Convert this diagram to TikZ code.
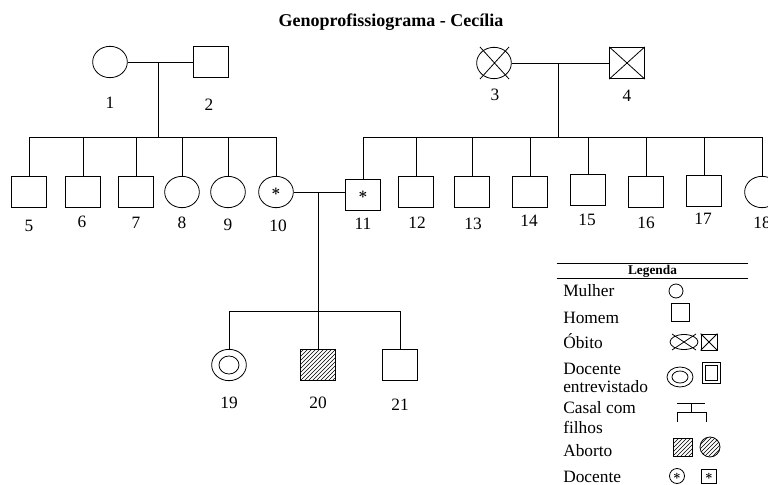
\documentclass[tikz,border=0pt]{standalone}
\usepackage{fontspec}
\setmainfont{Liberation Serif}
\usetikzlibrary{positioning,shapes.geometric,patterns}

\begin{document}
\begin{tikzpicture}[
  x=0.75pt, y=-0.75pt,
  man/.style={rectangle, draw=black, line width=0.6pt, minimum width=26pt, minimum height=23.5pt, inner sep=0pt},
  woman/.style={ellipse, draw=black, line width=0.6pt, minimum width=26pt, minimum height=23.5pt, inner sep=0pt},
  num/.style={font=\fontsize{13}{15}\selectfont, inner sep=0pt},
  leg/.style={font=\fontsize{13}{15}\selectfont, inner sep=0pt, anchor=base west},
  tie/.style={line width=0.6pt},
  aborted/.style={pattern=north east lines}
]
\useasboundingbox (0,0) rectangle (768,485);

\node[font=\fontsize{13.5}{16}\selectfont\bfseries] (title) at (391,22) {Genoprofissiograma - Cecília};

% avos
\node[woman] (p1) at (110,62) {};
\node[man] (p2) at (211,62) {};
\node[woman] (p3) at (494,63) {};
\node[man] (p4) at (627,63) {};
\draw[tie] ([shift={(-14,-16)}]p3.center) -- ([shift={(15,16)}]p3.center)
           ([shift={(15,-16)}]p3.center) -- ([shift={(-14,16)}]p3.center);
\draw[tie] (p4.north west) -- (p4.south east) (p4.north east) -- (p4.south west);

% filhos
\node[man] (p5) at (29,192) {};
\node[man] (p6) at (83,192) {};
\node[man] (p7) at (136,192) {};
\node[woman] (p8) at (182,192) {};
\node[woman] (p9) at (228,192) {};
\node[woman, font=\large\boldmath] (p10) at (276,192) {$\ast$};
\node[man, font=\large\boldmath] (p11) at (363,195) {$\ast$};
\node[man] (p12) at (416,192) {};
\node[man] (p13) at (472,192) {};
\node[man] (p14) at (530,192) {};
\node[man] (p15) at (588,190) {};
\node[man] (p16) at (646,192) {};
\node[man] (p17) at (704,191) {};
\node[woman] (p18) at (762,192) {};

% netos
\node[woman] (p19) at (229,365) {};
\node[woman, minimum width=15pt, minimum height=13.5pt] (p19i) at (p19) {};
\node[man, aborted] (p20) at (318,365) {};
\node[man] (p21) at (400,365) {};

\coordinate (c12) at (158,62);
\coordinate (sib1) at (158,137);
\coordinate (c34) at (558,63);
\coordinate (sib2) at (558,137);
\coordinate (c1011) at (318,193);
\coordinate (sib3) at (318,311);

\draw[tie] (p1) -- (p2) (c12) -- (sib1);
\draw[tie] (p3) -- (p4) (c34) -- (sib2);
\draw[tie] (sib1) -| (p5) (sib1) -| (p6) (sib1) -| (p7) (sib1) -| (p8) (sib1) -| (p9) (sib1) -| (p10);
\draw[tie] (sib2) -| (p11) (sib2) -| (p12) (sib2) -| (p13) (sib2) -| (p14) (sib2) -| (p15) (sib2) -| (p16) (sib2) -| (p17) (sib2) -| (p18);
\draw[tie] (p10.east) -- (p10.east -| p11.west) (c1011) -- (sib3);
\draw[tie] (sib3) -| (p19) (sib3) -- (p20) (sib3) -| (p21);

% numeros
\node[num] (l1) at (110,103) {1};
\node[num] (l2) at (209,105) {2};
\node[num] (l3) at (495,95) {3};
\node[num] (l4) at (627,96) {4};
\node[num] (l5) at (29,226) {5};
\node[num] (l6) at (82,222) {6};
\node[num] (l7) at (136,223) {7};
\node[num] (l8) at (182,223) {8};
\node[num] (l9) at (228,225) {9};
\node[num] (l10) at (278,226) {10};
\node[num] (l11) at (363,224) {11};
\node[num] (l12) at (417,223) {12};
\node[num] (l13) at (473,224) {13};
\node[num] (l14) at (529,221) {14};
\node[num] (l15) at (587,220) {15};
\node[num] (l16) at (646,223) {16};
\node[num] (l17) at (703,219) {17};
\node[num] (l18) at (762,223) {18};
\node[num] (l19) at (229,403) {19};
\node[num] (l20) at (318,403) {20};
\node[num] (l21) at (400,405) {21};

% legenda
\node[minimum width=143.25pt, minimum height=10.5pt, inner sep=0pt, font=\fontsize{10}{11}\selectfont\bfseries] (legenda) at (652.5,271) {Legenda};
\draw[tie] (legenda.north west) -- (legenda.north east) (legenda.south west) -- (legenda.south east);

\node[leg] (tmulher) at (563,296) {Mulher};
\node[leg] (thomem) at (563,323) {Homem};
\node[leg] (tobito) at (563,348) {Óbito};
\node[leg] (tdoc1) at (563,374) {Docente};
\node[leg] (tdoc2) at (563,392) {entrevistado};
\node[leg] (tcasal1) at (563,413) {Casal com};
\node[leg] (tcasal2) at (563,433) {filhos};
\node[leg] (taborto) at (563,456) {Aborto};
\node[leg] (tdocente) at (563,482) {Docente};

\node[woman, minimum width=10.5pt, minimum height=10.5pt] (lw) at (676,291) {};
\node[man, minimum width=13.5pt, minimum height=13.5pt] (lm) at (680,312) {};
\node[woman, minimum width=21pt, minimum height=11.25pt] (ldw) at (684,342) {};
\draw[tie] ([shift={(-12,-8)}]ldw.center) -- ([shift={(12,8)}]ldw.center)
           ([shift={(12,-8)}]ldw.center) -- ([shift={(-12,8)}]ldw.center);
\node[man, minimum width=12pt, minimum height=12pt] (ldm) at (709,342) {};
\draw[tie] (ldm.north west) -- (ldm.south east) (ldm.north east) -- (ldm.south west);
\node[woman, minimum width=19.5pt, minimum height=15pt] (liw) at (680,377) {};
\node[woman, minimum width=12pt, minimum height=9pt] (liwi) at (liw) {};
\node[man, minimum width=13.5pt, minimum height=15.75pt] (lim) at (711,373) {};
\node[man, minimum width=9pt, minimum height=11.25pt] (limi) at (lim) {};
\draw[tie] (677,403) -- (705,403) (691,403) -- (691,412) (677,422) |- (706,412) -- (706,422);
\node[man, aborted, minimum width=14.25pt, minimum height=13.5pt] (lam) at (683,447) {};
\node[woman, aborted, minimum width=15pt, minimum height=15pt] (law) at (710,447) {};
\node[woman, minimum width=11.25pt, minimum height=11.25pt, font=\normalsize\boldmath] (ldcw) at (677,476) {$\ast$};
\node[man, minimum width=11.25pt, minimum height=10.5pt, font=\normalsize\boldmath] (ldcm) at (709,476) {$\ast$};
\end{tikzpicture}
\end{document}
